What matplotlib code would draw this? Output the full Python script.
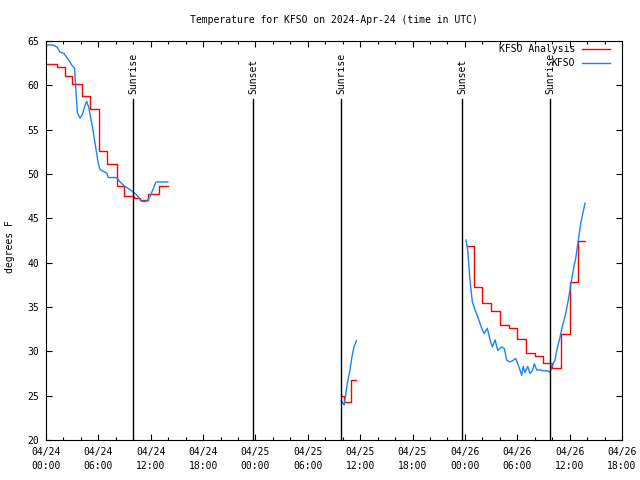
import matplotlib
matplotlib.use('Agg')
import matplotlib.pyplot as plt
from matplotlib.ticker import MultipleLocator, FixedLocator

plt.rcParams['font.family'] = ['DejaVu Sans Mono']
plt.rcParams['font.size'] = 7

# hours since 2024-04-24 00:00 UTC
# KFSO Analysis (hourly steps), three pieces with gaps between
ana1_hr = [0.1, 1.3, 2.2, 3.0, 4.1, 5.0, 6.1, 7.0, 8.1, 8.9, 10.1, 10.8, 11.7, 13.0, 13.95]
ana1_tmp = [62.35, 62.1, 61.05, 60.1, 58.8, 57.3, 52.6, 51.1, 48.6, 47.55, 47.25, 47.07, 47.8, 48.7, 48.7]
ana2_hr = [33.84, 34.1, 34.95, 35.56]
ana2_tmp = [25.0, 24.3, 26.8, 26.8]
ana3_hr = [48.2, 49.0, 50.0, 51.0, 52.0, 53.0, 54.0, 55.0, 56.0, 57.0, 58.0, 59.0, 60.0, 61.0, 61.76]
ana3_tmp = [41.9, 37.2, 35.5, 34.55, 33.0, 32.6, 31.35, 29.8, 29.5, 28.7, 28.15, 32.0, 37.85, 42.45, 42.45]

# KFSO observations
obs1_hr = [0.08, 0.72, 0.92, 1.29, 1.6, 2.06, 2.26, 2.64, 3.01, 3.29, 3.32, 3.44, 3.59, 3.9, 4.16,
           4.43, 4.66, 4.93, 5.12, 5.31, 5.5, 5.99, 6.19, 6.57, 6.96, 7.14, 8.1, 8.48, 9.05, 9.82,
           10.39, 10.97, 11.54, 11.92, 12.6, 13.95]
obs1_tmp = [64.55, 64.55, 64.5, 64.3, 63.75, 63.6, 63.3, 62.8, 62.2, 61.9, 61.1, 59.3, 56.9, 56.3, 56.7,
            57.6, 58.2, 57.4, 56.3, 55.4, 54.2, 51.2, 50.5, 50.3, 50.1, 49.6, 49.6, 49.1, 48.6, 48.1,
            47.65, 46.9, 46.9, 47.45, 49.1, 49.1]
obs2_hr = [33.84, 34.07, 34.15, 34.3, 34.53, 34.83, 35.06, 35.29, 35.56]
obs2_tmp = [24.4, 24.1, 23.95, 24.8, 26.4, 27.9, 29.4, 30.5, 31.2]
obs3_hr = [48.13, 48.32, 48.58, 48.85, 49.16, 49.54, 49.93, 50.19, 50.57, 50.88, 51.14, 51.45, 51.76,
           52.22, 52.52, 52.79, 53.17, 53.55, 53.82, 54.05, 54.31, 54.51, 54.69, 54.89, 55.2, 55.46,
           55.77, 55.95, 56.23, 56.61, 56.98, 57.49, 57.75, 57.95, 58.33, 58.52, 58.9, 59.16, 59.47,
           59.85, 60.16, 60.42, 60.7, 60.99, 61.3, 61.76]
obs3_tmp = [42.55, 41.4, 38.0, 35.6, 34.7, 33.7, 32.6, 32.0, 32.6, 31.3, 30.5, 31.3, 30.1,
            30.5, 30.3, 29.0, 28.8, 29.0, 29.2, 28.6, 27.9, 27.3, 28.3, 27.6, 28.3, 27.5,
            27.9, 28.6, 27.9, 27.9, 27.8, 27.8, 27.6, 28.3, 29.0, 30.1, 31.6, 32.8, 33.9,
            35.8, 37.7, 39.2, 40.5, 42.55, 44.6, 46.7]

sun_names = ['Sunrise', 'Sunset', 'Sunrise', 'Sunset', 'Sunrise']
sun_hr = [9.97, 23.72, 33.8, 47.67, 57.75]

tick_hr = [0, 6, 12, 18, 24, 30, 36, 42, 48, 54, 60, 66]
tick_day = ['04/24'] * 4 + ['04/25'] * 4 + ['04/26'] * 4
tick_time = ['00:00', '06:00', '12:00', '18:00'] * 3

RED = '#ff0000'
BLUE = '#1a84f0'

fig = plt.figure(figsize=(6.4, 4.8), dpi=100)
ax = fig.add_axes([46 / 640, 40 / 480, 576 / 640, 399 / 480])

for i, (h, t) in enumerate([(ana1_hr, ana1_tmp), (ana2_hr, ana2_tmp), (ana3_hr, ana3_tmp)]):
    ax.plot(h, t, color=RED, lw=1, drawstyle='steps-post',
            label='KFSO Analysis' if i == 0 else None)
for i, (h, t) in enumerate([(obs1_hr, obs1_tmp), (obs2_hr, obs2_tmp), (obs3_hr, obs3_tmp)]):
    ax.plot(h, t, color=BLUE, lw=1, label='KFSO' if i == 0 else None)

for name, h in zip(sun_names, sun_hr):
    ax.plot([h, h], [20, 58.45], color='black', lw=1)
    ax.text(h, 59.0, name, rotation=90, ha='center', va='bottom')

ax.set_xlim(0, 66)
ax.set_ylim(20, 65)
ax.xaxis.set_major_locator(FixedLocator(tick_hr))
ax.set_xticklabels([d + '\n' + t for d, t in zip(tick_day, tick_time)], linespacing=1.5)
ax.xaxis.set_minor_locator(MultipleLocator(2))
ax.yaxis.set_major_locator(MultipleLocator(5))
ax.tick_params(which='both', direction='in', top=True, right=True, width=0.8)
ax.tick_params(which='major', length=4)
ax.tick_params(which='minor', length=2.5)
ax.tick_params(axis='x', pad=5)
ax.tick_params(axis='y', pad=5)
for s in ax.spines.values():
    s.set_linewidth(0.8)

fig.text(334 / 640, 1 - 20 / 480, 'Temperature for KFSO on 2024-Apr-24 (time in UTC)',
         ha='center', va='center')
fig.text(10 / 640, 1 - 247 / 480, 'degrees F', rotation=90, ha='center', va='center')

ax.legend(loc='upper right', bbox_to_anchor=((610 - 46) / 576, 1 - 3 / 399), frameon=False,
          markerfirst=False, borderpad=0, borderaxespad=0, handlelength=2.9,
          handletextpad=0.7, labelspacing=0.45)

fig.savefig('out.png', dpi=100)
